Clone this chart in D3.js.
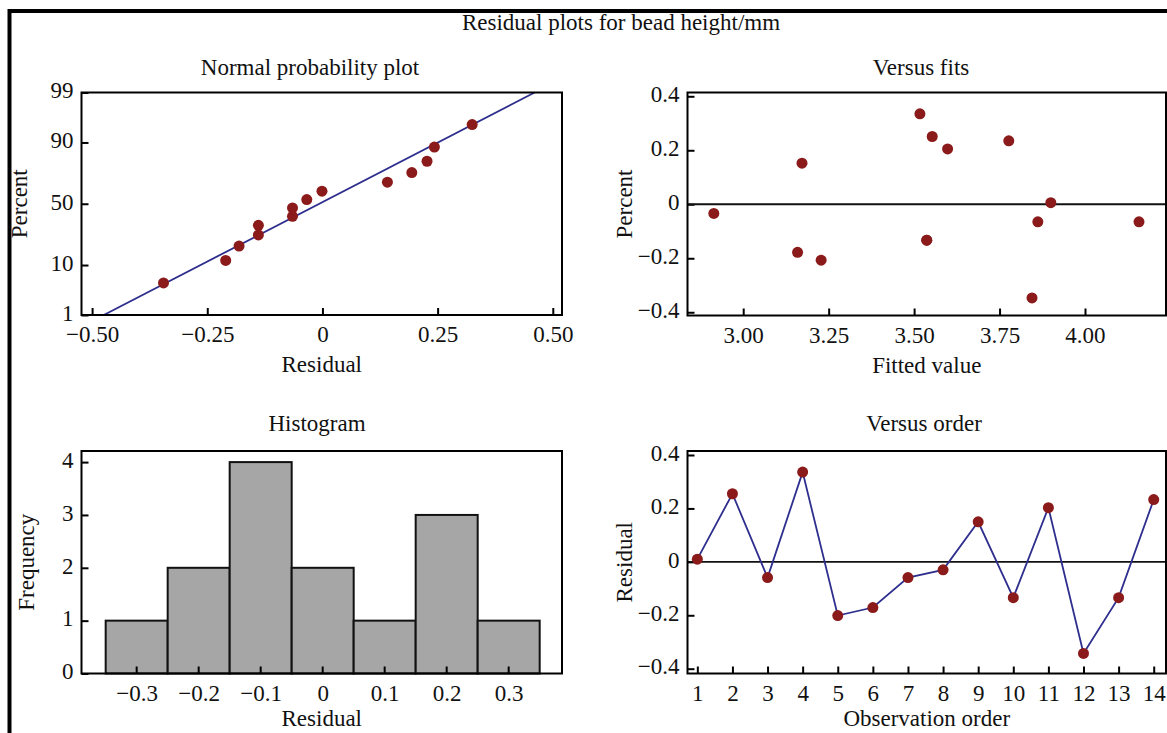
<!DOCTYPE html>
<html>
<head>
<meta charset="utf-8">
<script src="https://cdn.jsdelivr.net/npm/d3@7"></script>
<style>
  html, body { margin: 0; padding: 0; background: #fff; }
  svg { display: block; }
  text { font-family: "Liberation Serif", "Times New Roman", serif; fill: #111; }
</style>
</head>
<body>
<svg id="chart" width="1167" height="733"></svg>
<script>
// ---------------- DATA ----------------
const mainTitle = "Residual plots for bead height/mm";

// Normal probability plot
const npResidual = [-0.345, -0.21, -0.181, -0.139, -0.139, -0.065, -0.065, -0.034, -0.001, 0.141, 0.194, 0.227, 0.243, 0.325];
const npPercent  = [4.9, 11.8, 18.8, 25.7, 32.6, 39.6, 46.5, 53.5, 60.4, 67.4, 74.3, 81.3, 88.2, 95.1];
const npFitMean = -0.007;
const npFitSd = 0.201;
const npFitPercentEnds = [1, 99];
const npXTicks = [-0.5, -0.25, 0, 0.25, 0.5];
const npXTickLabels = ["\u22120.50", "\u22120.25", "0", "0.25", "0.50"];
const npYTicks = [1, 10, 50, 90, 99];
const npYTickLabels = ["1", "10", "50", "90", "99"];

// Versus fits
const fittedValues = [3.9, 3.553, 3.862, 3.517, 3.228, 3.159, 4.158, 2.914, 3.172, 3.537, 3.598, 3.845, 3.537, 3.777];
const fitResiduals = [0.006, 0.251, -0.065, 0.335, -0.207, -0.178, -0.065, -0.034, 0.152, -0.133, 0.205, -0.347, -0.133, 0.235];
const vfXTicks = [3.0, 3.25, 3.5, 3.75, 4.0];
const vfXTickLabels = ["3.00", "3.25", "3.50", "3.75", "4.00"];
const resYTicks = [-0.4, -0.2, 0, 0.2, 0.4];
const resYTickLabels = ["\u22120.4", "\u22120.2", "0", "0.2", "0.4"];

// Histogram
const binCenters = [-0.3, -0.2, -0.1, 0, 0.1, 0.2, 0.3];
const binCounts  = [1, 2, 4, 2, 1, 3, 1];
const binWidth = 0.1;
const hXTicks = [-0.3, -0.2, -0.1, 0, 0.1, 0.2, 0.3];
const hXTickLabels = ["\u22120.3", "\u22120.2", "\u22120.1", "0", "0.1", "0.2", "0.3"];
const hYTicks = [0, 1, 2, 3, 4];
const hYTickLabels = ["0", "1", "2", "3", "4"];

// Versus order
const observationOrder = [1, 2, 3, 4, 5, 6, 7, 8, 9, 10, 11, 12, 13, 14];
const orderResiduals = [0.01, 0.255, -0.059, 0.336, -0.201, -0.171, -0.059, -0.03, 0.15, -0.134, 0.203, -0.343, -0.134, 0.233];
const voXTickLabels = observationOrder.map(String);

// ---------------- HELPERS ----------------
function probit(p) {
  const a=[-3.969683028665376e+01,2.209460984245205e+02,-2.759285104469687e+02,1.383577518672690e+02,-3.066479806614716e+01,2.506628277459239e+00];
  const b=[-5.447609879822406e+01,1.615858368580409e+02,-1.556989798598866e+02,6.680131188771972e+01,-1.328068155288572e+01];
  const c=[-7.784894002430293e-03,-3.223964580411365e-01,-2.400758277161838e+00,-2.549732539343734e+00,4.374664141464968e+00,2.938163982698783e+00];
  const d=[7.784695709041462e-03,3.224671290700398e-01,2.445134137142996e+00,3.754408661907416e+00];
  const pl = 0.02425, ph = 1 - pl;
  let q, r;
  if (p < pl) { q = Math.sqrt(-2*Math.log(p)); return (((((c[0]*q+c[1])*q+c[2])*q+c[3])*q+c[4])*q+c[5])/((((d[0]*q+d[1])*q+d[2])*q+d[3])*q+1); }
  if (p <= ph) { q = p - 0.5; r = q*q; return (((((a[0]*r+a[1])*r+a[2])*r+a[3])*r+a[4])*r+a[5])*q/(((((b[0]*r+b[1])*r+b[2])*r+b[3])*r+b[4])*r+1); }
  q = Math.sqrt(-2*Math.log(1-p));
  return -(((((c[0]*q+c[1])*q+c[2])*q+c[3])*q+c[4])*q+c[5])/((((d[0]*q+d[1])*q+d[2])*q+d[3])*q+1);
}

const svg = d3.select("#chart");
const FS = 23;
const DOT = "#8b1a1a";
const LINE = "#2e2e8e";
const TICK = 7;
const R_DOT = 5.5;

// outer border
svg.append("rect").attr("x", 9.5).attr("y", 11).attr("width", 1200).attr("height", 800)
  .attr("fill", "none").attr("stroke", "#000").attr("stroke-width", 4);

svg.append("text").attr("x", 621).attr("y", 25).attr("text-anchor", "middle")
  .attr("dominant-baseline", "middle").style("font-size", FS + "px").text(mainTitle);

function panel(cfg) {
  const g = svg.append("g");
  const {x, y, L, R, T, B} = cfg;
  // x axis
  const ax = g.append("g").attr("transform", `translate(0,${B})`)
    .call(d3.axisBottom(x).tickValues(cfg.xTicks).tickSizeInner(-TICK).tickSizeOuter(0).tickPadding(0)
      .tickFormat((d, i) => cfg.xLabels[i]));
  ax.select(".domain").remove();
  ax.selectAll(".tick line").attr("stroke", "#000").attr("stroke-width", 2);
  ax.selectAll(".tick text").attr("dy", null).attr("y", 22).attr("dominant-baseline", "middle")
    .style("font-size", FS + "px").style("font-family", "Liberation Serif").attr("fill", "#111");
  // y axis
  const ay = g.append("g").attr("transform", `translate(${L},0)`)
    .call(d3.axisLeft(y).tickValues(cfg.yTicks).tickSizeInner(-TICK).tickSizeOuter(0).tickPadding(0)
      .tickFormat((d, i) => cfg.yLabels[i]));
  ay.select(".domain").remove();
  ay.selectAll(".tick line").attr("stroke", "#000").attr("stroke-width", 2);
  ay.selectAll(".tick text").attr("x", -8).attr("dy", null).attr("dominant-baseline", "middle")
    .style("font-size", FS + "px").style("font-family", "Liberation Serif").attr("fill", "#111");
  // titles
  g.append("text").attr("x", cfg.titleX).attr("y", cfg.titleY).attr("text-anchor", "middle")
    .attr("dominant-baseline", "middle").style("font-size", FS + "px").text(cfg.title);
  g.append("text").attr("x", (L + R) / 2).attr("y", B + cfg.xTitleOffset).attr("text-anchor", "middle")
    .attr("dominant-baseline", "middle").style("font-size", FS + "px").text(cfg.xTitle);
  g.append("text").attr("transform", `translate(${cfg.yTitleX},${(T + B) / 2}) rotate(-90)`)
    .attr("text-anchor", "middle").attr("dominant-baseline", "middle")
    .style("font-size", FS + "px").text(cfg.yTitle);
  const plot = g.append("g");
  // frame drawn last
  g.append("rect").attr("x", L).attr("y", T).attr("width", R - L).attr("height", B - T)
    .attr("fill", "none").attr("stroke", "#000").attr("stroke-width", 2);
  return plot;
}

// ---------- Panel 1: Normal probability plot ----------
{
  const L = 81.5, R = 562, T = 92.5, B = 315;
  const x = d3.scaleLinear().domain([-0.523, 0.52]).range([L, R]);
  const z = d3.scaleLinear().domain([probit(0.01), probit(0.99)]).range([B, T]);
  const yScale = p => z(probit(p / 100));
  // probit-percent scale usable by d3.axisLeft
  const ps = function(p) { return yScale(p); };
  ps.copy = () => ps; ps.range = () => [B, T]; ps.domain = () => [1, 99];
  ps.ticks = () => npYTicks; ps.tickFormat = () => String;
  const plot = panel({x, y: ps, L, R, T, B,
    xTicks: npXTicks, xLabels: npXTickLabels, yTicks: npYTicks, yLabels: npYTickLabels,
    title: "Normal probability plot", titleX: 310, titleY: 70,
    xTitle: "Residual", xTitleOffset: 52, yTitle: "Percent", yTitleX: 22});
  const ends = npFitPercentEnds.map(p => [x(npFitMean + npFitSd * probit(p / 100)), yScale(p)]);
  plot.append("path").attr("d", d3.line()(ends)).attr("stroke", LINE).attr("stroke-width", 1.8).attr("fill", "none");
  plot.selectAll("circle").data(npResidual).join("circle")
    .attr("cx", d => x(d)).attr("cy", (d, i) => yScale(npPercent[i])).attr("r", R_DOT).attr("fill", DOT);
}

// ---------- Panel 2: Versus fits ----------
{
  const L = 687.5, R = 1166, T = 92.5, B = 315.5;
  const x = d3.scaleLinear().domain([2.837, 4.237]).range([L, R]);
  const y = d3.scaleLinear().domain([-0.412, 0.414]).range([B, T]);
  const plot = panel({x, y, L, R, T, B,
    xTicks: vfXTicks, xLabels: vfXTickLabels, yTicks: resYTicks, yLabels: resYTickLabels,
    title: "Versus fits", titleX: 921, titleY: 70,
    xTitle: "Fitted value", xTitleOffset: 52, yTitle: "Percent", yTitleX: 627});
  plot.append("line").attr("x1", L).attr("x2", R).attr("y1", y(0)).attr("y2", y(0))
    .attr("stroke", "#111").attr("stroke-width", 1.8);
  plot.selectAll("circle").data(fittedValues).join("circle")
    .attr("cx", d => x(d)).attr("cy", (d, i) => y(fitResiduals[i])).attr("r", R_DOT).attr("fill", DOT);
}

// ---------- Panel 3: Histogram ----------
{
  const L = 81.5, R = 562, T = 451, B = 673.5;
  const x = d3.scaleLinear().domain([-0.389, 0.386]).range([L, R]);
  const y = d3.scaleLinear().domain([0, 4.21]).range([B, T]);
  const plot = panel({x, y, L, R, T, B,
    xTicks: hXTicks, xLabels: hXTickLabels, yTicks: hYTicks, yLabels: hYTickLabels,
    title: "Histogram", titleX: 317, titleY: 426,
    xTitle: "Residual", xTitleOffset: 47, yTitle: "Frequency", yTitleX: 29});
  plot.selectAll("rect").data(binCenters).join("rect")
    .attr("x", d => x(d - binWidth / 2)).attr("width", d => x(d + binWidth / 2) - x(d - binWidth / 2))
    .attr("y", (d, i) => y(binCounts[i])).attr("height", (d, i) => B - y(binCounts[i]))
    .attr("fill", "#a6a6a6").attr("stroke", "#111").attr("stroke-width", 2);
  // x ticks drawn above the bars
  plot.selectAll("line.tk").data(hXTicks).join("line").attr("class", "tk")
    .attr("x1", d => x(d)).attr("x2", d => x(d)).attr("y1", B).attr("y2", B - TICK)
    .attr("stroke", "#000").attr("stroke-width", 2);
}

// ---------- Panel 4: Versus order ----------
{
  const L = 687.5, R = 1166, T = 451, B = 673.5;
  const x = d3.scaleLinear().domain([0.72, 14.35]).range([L, R]);
  const y = d3.scaleLinear().domain([-0.418, 0.415]).range([B, T]);
  const plot = panel({x, y, L, R, T, B,
    xTicks: observationOrder, xLabels: voXTickLabels, yTicks: resYTicks, yLabels: resYTickLabels,
    title: "Versus order", titleX: 924, titleY: 426,
    xTitle: "Observation order", xTitleOffset: 47, yTitle: "Residual", yTitleX: 627});
  plot.append("line").attr("x1", L).attr("x2", R).attr("y1", y(0)).attr("y2", y(0))
    .attr("stroke", "#111").attr("stroke-width", 1.8);
  plot.append("path").datum(observationOrder)
    .attr("d", d3.line().x(d => x(d)).y((d, i) => y(orderResiduals[i])))
    .attr("stroke", LINE).attr("stroke-width", 1.8).attr("fill", "none");
  plot.selectAll("circle").data(observationOrder).join("circle")
    .attr("cx", d => x(d)).attr("cy", (d, i) => y(orderResiduals[i])).attr("r", R_DOT).attr("fill", DOT);
}
</script>
</body>
</html>
